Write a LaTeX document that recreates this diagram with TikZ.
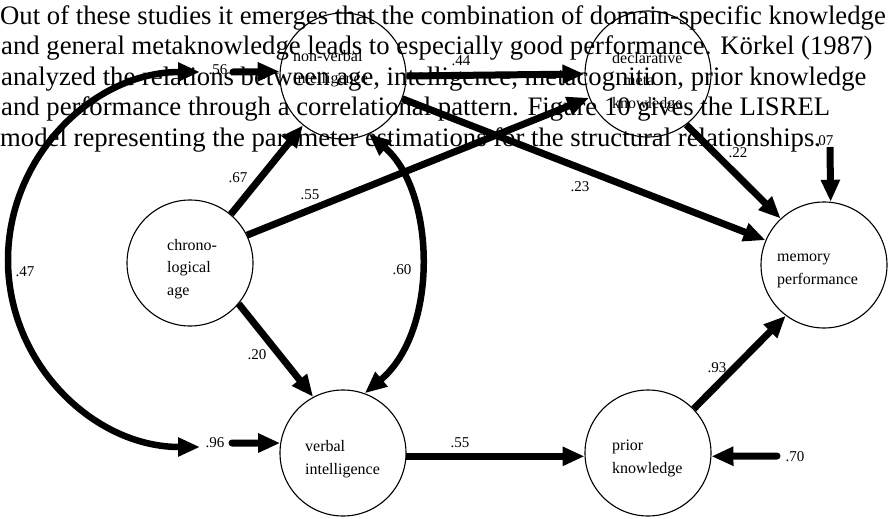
\documentclass[tikz,border=0pt]{standalone}
\usepackage{fontspec}
\setmainfont{Liberation Serif}
\usetikzlibrary{arrows.meta}

\begin{document}
\begin{tikzpicture}[x=1pt,y=-1pt,
  >={Triangle[length=22pt,width=18pt]},
  latent/.style={circle,draw,line width=1.1pt,minimum size=126pt,inner sep=0pt},
  % multi-line labels: the base anchor sits on the last line
  ntext/.style={font=\fontsize{16}{22.5}\selectfont,align=left,inner sep=0pt,anchor=base west},
  coef/.style={font=\fontsize{15}{15}\selectfont,inner sep=0pt},
  para/.style={font=\fontsize{26.7}{30}\selectfont,anchor=base west,inner sep=0pt},
  pathline/.style={line width=7pt,->},
  corrline/.style={line width=6.5pt,<->},
]
\fill[white] (0,0) rectangle (892,519);
\useasboundingbox (0,0) rectangle (892,519);

% running text of the page
\node[para] (p1) at (0,25)  {Out of these studies it emerges that the combination of domain-specific knowledge};
\node[para] (p2) at (1,55)  {and general metaknowledge leads to especially good performance. Körkel (1987)};
\node[para] (p3) at (1,85)  {analyzed the relations between age, intelligence, metacognition, prior knowledge};
\node[para] (p4) at (1,115) {and performance through a correlational pattern. Figure 10 gives the LISREL};
\node[para] (p5) at (0,146) {model representing the parameter estimations for the structural relationships.};

% latent variables
\node[latent] (ca) at (190,263) {};
\node[latent] (nv) at (343,76)  {};
\node[latent] (dm) at (648,74)  {};
\node[latent] (mp) at (824,265) {};
\node[latent] (vi) at (343,453) {};
\node[latent] (pk) at (648,453) {};

\node[ntext] (catxt) at (167,295) {chrono-\\logical\\age};
\node[ntext] (nvtxt) at (293,84)  {non-verbal\\intelligence};
\node[ntext] (dmtxt) at (612,108) {declarative\\\hspace*{11pt}meta\\knowledge};
\node[ntext] (mptxt) at (777,284) {memory\\performance};
\node[ntext] (vitxt) at (305,474) {verbal\\intelligence};
\node[ntext] (pktxt) at (612,473) {prior\\knowledge};

% free ends of residual paths and of the correlation arc
\coordinate (e56) at (233,72);
\coordinate (e96) at (232,443);
\coordinate (e07) at (830,147);
\coordinate (e70) at (777,456);
\coordinate (c56) at (200,72);
\coordinate (c96) at (200,447);

% structural paths
\draw[pathline] (ca.50)  -- (nv.-129);
\draw[pathline] (ca.26)  -- (dm.-158);
\draw[pathline] (ca.-40) -- (vi.118);
\draw[pathline] (nv.east) -- (dm.west);
\draw[pathline] (nv.-21) -- (mp.157);
\draw[pathline] (dm.-53) -- (mp.133);
\draw[pathline] (pk.44)  -- (mp.-127);
\draw[pathline] (vi.-3)  -- (pk.183);

% residuals
\draw[pathline,line cap=round] (e56) -- (nv.176);
\draw[pathline,line cap=round] (e96) -- (vi.171);
\draw[pathline] (e07) -- (mp.84);
\draw[pathline,line cap=round] (e70) -- (pk.-3);

% correlations
\draw[corrline] (c56) .. controls (94,72) and (8,156) .. (8,260)
                      .. controls (8,364) and (94,447) .. (c96);
\draw[corrline] (nv.-66) .. controls (435,190) and (440,330) .. (vi.70);

% coefficients
\node[coef] (l67) at (238,178) {.67};
\node[coef] (l55a) at (310,195) {.55};
\node[coef] (l20) at (257,355) {.20};
\node[coef] (l44) at (461,61)  {.44};
\node[coef] (l23) at (580,187) {.23};
\node[coef] (l22) at (738,153) {.22};
\node[coef] (l07) at (824,141) {.07};
\node[coef] (l93) at (717,368) {.93};
\node[coef] (l55b) at (460,443) {.55};
\node[coef] (l70) at (795,457) {.70};
\node[coef] (l96) at (215,443) {.96};
\node[coef] (l56) at (218,70)  {.56};
\node[coef] (l47) at (25,272)  {.47};
\node[coef] (l60) at (402,270) {.60};
\end{tikzpicture}
\end{document}
